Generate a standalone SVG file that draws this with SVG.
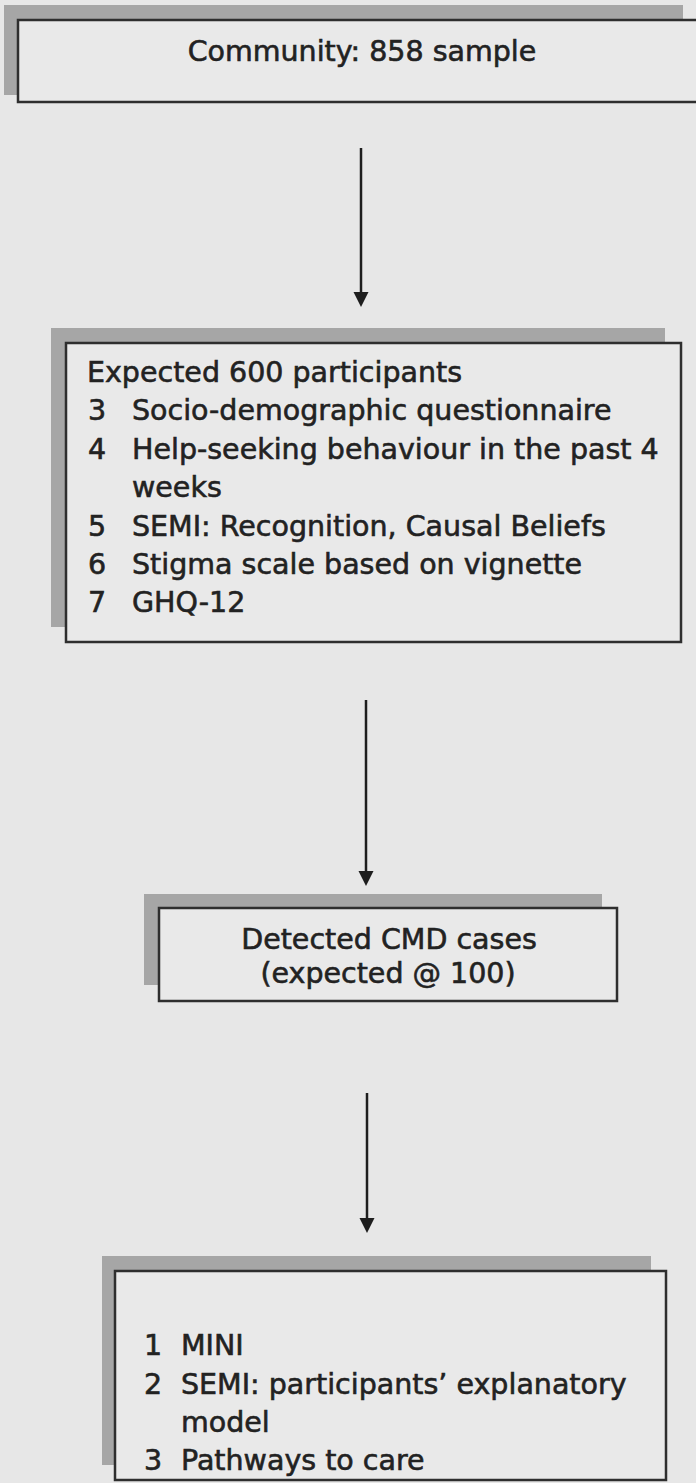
<svg xmlns="http://www.w3.org/2000/svg" width="696" height="1483" viewBox="0 0 696 1483">
  <defs>
    <style>
      .bg { fill: #e7e7e7; }
      .shadow { fill: #a6a6a6; }
      .box { fill: #e9e9e9; stroke: #2e2e2e; stroke-width: 2.5; }
      .t { font-family: "DejaVu Sans", "Liberation Sans", sans-serif; font-size: 28.5px; fill: #222; stroke: #222; stroke-width: 0.6; }
      .c { text-anchor: middle; }
      .conn { stroke: #1e1e1e; stroke-width: 2.5; fill: none; }
    </style>
    <marker id="arrow" markerUnits="userSpaceOnUse" markerWidth="17" markerHeight="16" refX="2" refY="7.5" orient="auto">
      <path d="M0,0 L15,7.5 L0,15 z" fill="#1e1e1e"/>
    </marker>
  </defs>

  <rect class="bg" x="0" y="0" width="696" height="1483"/>

  <g id="node-community">
    <rect class="shadow" x="4" y="5" width="679" height="90"/>
    <rect class="box" x="18" y="20" width="690" height="82"/>
    <text class="t c" x="362" y="61">Community: 858 sample</text>
  </g>

  <g id="node-participants">
    <rect class="shadow" x="51" y="328" width="614" height="299"/>
    <rect class="box" x="66" y="343" width="615" height="299"/>
    <text class="t" x="87" y="382">Expected 600 participants</text>
    <text class="t" x="88" y="420">3</text>
    <text class="t" x="132" y="420">Socio-demographic questionnaire</text>
    <text class="t" x="88" y="459">4</text>
    <text class="t" x="132" y="459">Help-seeking behaviour in the past 4</text>
    <text class="t" x="132" y="497">weeks</text>
    <text class="t" x="88" y="536">5</text>
    <text class="t" x="132" y="536">SEMI: Recognition, Causal Beliefs</text>
    <text class="t" x="88" y="574">6</text>
    <text class="t" x="132" y="574">Stigma scale based on vignette</text>
    <text class="t" x="88" y="612">7</text>
    <text class="t" x="132" y="612">GHQ-12</text>
  </g>

  <g id="node-cmd">
    <rect class="shadow" x="144" y="894" width="458" height="91"/>
    <rect class="box" x="159" y="908" width="458" height="93"/>
    <text class="t c" x="389" y="949">Detected CMD cases</text>
    <text class="t c" x="388" y="983">(expected @ 100)</text>
  </g>

  <g id="node-followup">
    <rect class="shadow" x="102" y="1256" width="549" height="209"/>
    <rect class="box" x="115" y="1271" width="551" height="209"/>
    <text class="t" x="144" y="1355">1</text>
    <text class="t" x="181" y="1355">MINI</text>
    <text class="t" x="144" y="1394">2</text>
    <text class="t" x="181" y="1394">SEMI: participants’ explanatory</text>
    <text class="t" x="181" y="1432">model</text>
    <text class="t" x="144" y="1470">3</text>
    <text class="t" x="181" y="1470">Pathways to care</text>
  </g>

  <g id="connectors">
    <line class="conn" x1="361" y1="148" x2="361" y2="294" marker-end="url(#arrow)"/>
    <line class="conn" x1="366" y1="700" x2="366" y2="873" marker-end="url(#arrow)"/>
    <line class="conn" x1="367" y1="1093" x2="367" y2="1220" marker-end="url(#arrow)"/>
  </g>
</svg>
